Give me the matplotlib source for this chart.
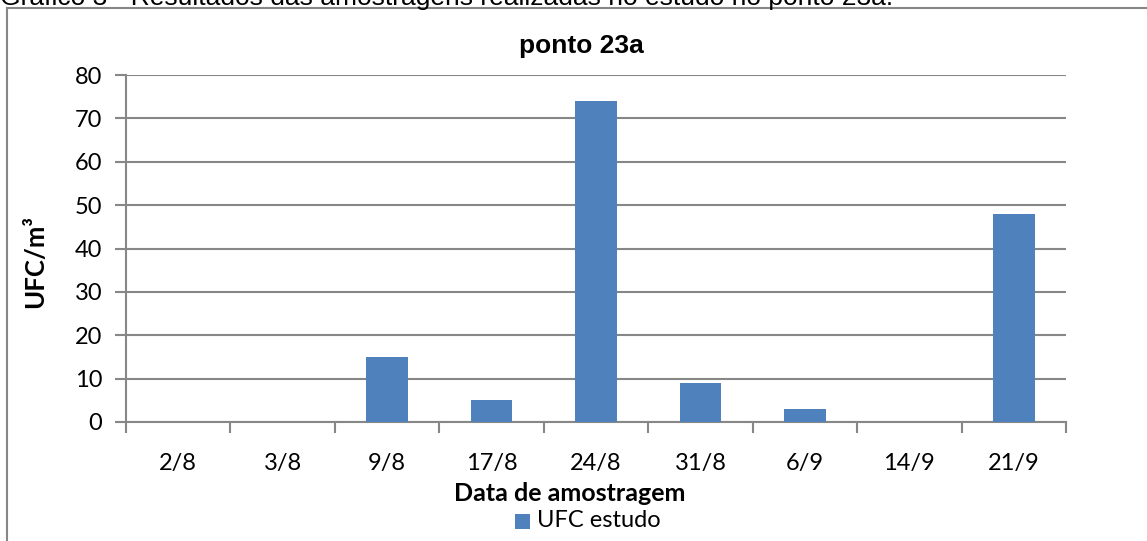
import matplotlib
matplotlib.use("Agg")
import matplotlib.pyplot as plt
from matplotlib.lines import Line2D
import numpy as np

# Sampling dates and colony counts (UFC/m³) at point 23a
dates = ["2/8", "3/8", "9/8", "17/8", "24/8", "31/8", "6/9", "14/9", "21/9"]
ufc_estudo = [0, 0, 15, 5, 74, 9, 3, 0, 48]
y_ticks = [0, 10, 20, 30, 40, 50, 60, 70, 80]

W, H = 1147, 541
fig = plt.figure(figsize=(W / 100, H / 100), dpi=100)
fig.patch.set_facecolor("white")

def fx(px):
    return px / W

def fy(py):
    return 1 - py / H

grid_col = "#878787"
bar_col = "#4F81BD"
chart_font = ["Lato", "DejaVu Sans"]
arial = ["Liberation Sans", "DejaVu Sans"]

# Caption above the chart frame (partly outside the page)
fig.text(fx(0), fy(5), "Gráfico 3 - Resultados das amostragens realizadas no estudo no ponto 23a.",
         family=arial, fontsize=19, va="baseline", ha="left", color="#000000")

# Chart frame (left and top edges)
fig.add_artist(Line2D([fx(7.5), fx(7.5)], [fy(7.5), 0], transform=fig.transFigure,
                      color=grid_col, lw=1.5))
fig.add_artist(Line2D([fx(7.5), 1], [fy(7.5), fy(7.5)], transform=fig.transFigure,
                      color=grid_col, lw=1.5))

left, right, top, bottom = 126, 1066, 75, 422
ax = fig.add_axes([fx(left), fy(bottom), fx(right - left), (bottom - top) / H])

x = np.arange(len(dates))
ax.bar(x, ufc_estudo, width=0.4, color=bar_col, zorder=3)

ax.set_xlim(-0.5, len(dates) - 0.5)
ax.set_ylim(0, 80)
ax.set_yticks(y_ticks)
ax.set_yticklabels([str(v) for v in y_ticks], family=chart_font, fontsize=17)
ax.yaxis.grid(True, color=grid_col, lw=1.5, zorder=0)
ax.set_axisbelow(True)

# Category labels centered, tick marks on category boundaries
ax.set_xticks(np.arange(-0.5, len(dates), 1.0))
ax.set_xticklabels([])
ax.set_xticks(x, minor=True)
ax.set_xticklabels(dates, minor=True, family=chart_font, fontsize=17)
ax.tick_params(axis="x", which="major", length=8, width=1.5, color=grid_col, direction="out")
ax.tick_params(axis="x", which="minor", length=0, pad=22)
ax.tick_params(axis="y", length=8, width=1.5, color=grid_col, direction="out", pad=9)

for side in ["top", "right"]:
    ax.spines[side].set_visible(False)
for side in ["left", "bottom"]:
    ax.spines[side].set_color(grid_col)
    ax.spines[side].set_linewidth(1.5)

# Title, axis labels and legend
fig.text(fx(581), fy(46), "ponto 23a", family=arial, fontsize=19, fontweight="bold",
         ha="center", va="center")
fig.text(fx(35), fy(262), "UFC/m³", family=chart_font, fontsize=18.5, fontweight="bold",
         rotation=90, ha="center", va="center")
fig.text(fx(570), fy(501), "Data de amostragem", family=chart_font, fontsize=18,
         fontweight="bold", ha="center", va="baseline")

fig.add_artist(plt.Rectangle((fx(515), fy(529)), fx(15), 15 / H, transform=fig.transFigure,
                             facecolor=bar_col, edgecolor="none"))
fig.text(fx(537), fy(527), "UFC estudo", family=chart_font, fontsize=17,
         ha="left", va="baseline")

fig.savefig("out.png", dpi=100, facecolor="white")
